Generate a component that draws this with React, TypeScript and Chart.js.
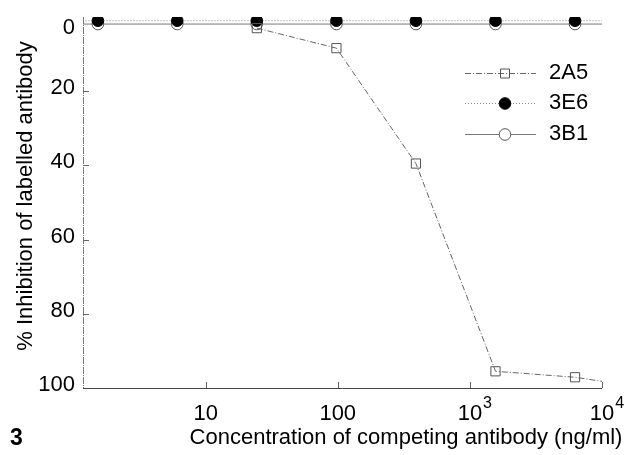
import React, { useEffect, useRef } from "react";
import { Chart, registerables } from "chart.js";

Chart.register(...registerables);

// ---- data ----
const concentrations = [0.39, 1.53, 6.1, 24.4, 97.7, 390.6, 1562.5, 6250, 25000];
const series2A5: (number | null)[] = [null, null, null, 3, 8.4, 39.5, 95.5, 97.1, 100.4];
const series3E6 = [1, 1, 1, 1, 1, 1, 1, 1, 1];
const series3B1 = [1.9, 1.9, 1.9, 1.9, 1.9, 1.9, 1.9, 1.9, 1.9];
const seriesNames = ["2A5", "3E6", "3B1"];
const xTickValues = [10, 100, 1000, 10000];
const xTickLabels = ["10", "100", "10^3", "10^4"];
const yTickValues = [0, 20, 40, 60, 80, 100];
const xTitle = "Concentration of competing antibody (ng/ml)";
const yTitle = "% Inhibition of labelled antibody";
const panelLabel = "3";

const X_MIN = 1.18;
const X_MAX = 10000;
const FONT = '"Liberation Sans", Arial, sans-serif';

const toPoints = (ys: (number | null)[]) =>
  concentrations.map((x, i) => ({ x, y: ys[i] }));

const inRange = (r: number) => (ctx: any) => {
  const x = ctx.raw && ctx.raw.x;
  return x == null || x < X_MIN || x > X_MAX ? 0 : r;
};

const decoPlugin = {
  id: "deco",
  afterDraw(chart: any) {
    const { ctx, chartArea: a, scales } = chart;
    const xs = scales.x;
    const ys = scales.y;
    ctx.save();
    // axis lines
    ctx.lineWidth = 1;
    ctx.strokeStyle = "#777";
    ctx.setLineDash([7, 1, 1, 1]);
    ctx.beginPath();
    ctx.moveTo(a.left + 0.5, a.top);
    ctx.lineTo(a.left + 0.5, a.bottom);
    ctx.stroke();
    ctx.setLineDash([]);
    ctx.strokeStyle = "#444";
    ctx.beginPath();
    ctx.moveTo(a.left, a.bottom + 0.5);
    ctx.lineTo(a.right, a.bottom + 0.5);
    ctx.stroke();
    // inward ticks
    ctx.strokeStyle = "#666";
    yTickValues.forEach((v) => {
      if (v === 0 || v === 100) return;
      const py = Math.round(ys.getPixelForValue(v)) + 0.5;
      ctx.beginPath();
      ctx.moveTo(a.left, py);
      ctx.lineTo(a.left + 6, py);
      ctx.stroke();
    });
    xTickValues.forEach((v) => {
      const px = Math.round(xs.getPixelForValue(v)) + 0.5;
      ctx.beginPath();
      ctx.moveTo(px, a.bottom);
      ctx.lineTo(px, a.bottom - 6);
      ctx.stroke();
    });
    // tick labels
    ctx.fillStyle = "#000";
    ctx.font = `22px ${FONT}`;
    ctx.textBaseline = "middle";
    ctx.textAlign = "right";
    yTickValues.forEach((v) => {
      const py = Math.max(ys.getPixelForValue(v) - 3, a.top + 11);
      ctx.fillText(String(v), a.left - 8, py);
    });
    xTickValues.forEach((v, i) => {
      const px = xs.getPixelForValue(v);
      const [base, exp] = xTickLabels[i].split("^");
      ctx.font = `22px ${FONT}`;
      ctx.textAlign = "center";
      ctx.fillText(base, px, a.bottom + 26);
      if (exp) {
        const w = ctx.measureText(base).width;
        ctx.font = `16px ${FONT}`;
        ctx.textAlign = "left";
        ctx.fillText(exp, px + w / 2 + 1, a.bottom + 16);
      }
    });
    // titles
    ctx.font = `22px ${FONT}`;
    ctx.textAlign = "center";
    ctx.fillText(xTitle, 406, 438);
    ctx.save();
    ctx.translate(26, 196);
    ctx.rotate(-Math.PI / 2);
    ctx.fillText(yTitle, 0, 0);
    ctx.restore();
    ctx.font = `bold 23px ${FONT}`;
    ctx.textAlign = "left";
    ctx.fillText(panelLabel, 10, 439);
    // legend
    const rows = [73, 103, 134];
    chart.data.datasets.forEach((ds: any, i: number) => {
      const yy = rows[i] + 0.5;
      ctx.strokeStyle = ds.borderColor;
      ctx.lineWidth = 1;
      ctx.setLineDash(ds.borderDash || []);
      ctx.beginPath();
      ctx.moveTo(465, yy);
      ctx.lineTo(536, yy);
      ctx.stroke();
      ctx.setLineDash([]);
      ctx.strokeStyle = ds.pointBorderColor;
      ctx.fillStyle = ds.pointBackgroundColor;
      const r = ds.legendRadius;
      ctx.beginPath();
      if (ds.pointStyle === "rect") {
        ctx.rect(505 - 4.5, yy - 4.5, 9, 9);
      } else {
        ctx.arc(505, yy, r, 0, Math.PI * 2);
      }
      ctx.fill();
      ctx.stroke();
      ctx.fillStyle = "#000";
      ctx.font = `22px ${FONT}`;
      ctx.textAlign = "left";
      ctx.textBaseline = "middle";
      ctx.fillText(ds.label, 549, rows[i]);
    });
    ctx.restore();
  },
};

export default function App() {
  const ref = useRef<HTMLCanvasElement | null>(null);
  useEffect(() => {
    document.body.style.margin = "0";
    const canvas = ref.current;
    if (!canvas) return;
    const chart = new Chart(canvas, {
      type: "line",
      data: {
        datasets: [
          {
            label: seriesNames[0],
            data: toPoints(series2A5),
            borderColor: "#666",
            borderWidth: 1,
            borderDash: [6, 2, 1, 2],
            pointStyle: "rect",
            pointRadius: inRange(6.5),
            pointBorderColor: "#555",
            pointBackgroundColor: "rgba(255,255,255,0)",
            pointBorderWidth: 1,
            legendRadius: 4.5,
          } as any,
          {
            label: seriesNames[1],
            data: toPoints(series3E6),
            borderColor: "#888",
            borderWidth: 1,
            borderDash: [1, 2],
            pointStyle: "circle",
            pointRadius: inRange(5.8),
            pointBorderColor: "#000",
            pointBackgroundColor: "#000",
            pointBorderWidth: 1,
            legendRadius: 5.8,
          } as any,
          {
            label: seriesNames[2],
            data: toPoints(series3B1),
            borderColor: "#777",
            borderWidth: 1,
            borderDash: [],
            pointStyle: "circle",
            pointRadius: inRange(5.8),
            pointBorderColor: "#555",
            pointBackgroundColor: "#fff",
            pointBorderWidth: 1,
            legendRadius: 5.8,
          } as any,
        ],
      },
      options: {
        animation: false,
        responsive: false,
        layout: { padding: { left: 0, top: 17, right: 35, bottom: 0 } },
        plugins: { legend: { display: false }, tooltip: { enabled: false } },
        scales: {
          x: {
            type: "logarithmic",
            min: X_MIN,
            max: X_MAX,
            grid: { display: false },
            border: { display: false },
            ticks: { display: false },
            afterFit: (s: any) => {
              s.height = 67;
            },
          },
          y: {
            type: "linear",
            reverse: true,
            min: 0,
            max: 100,
            grid: { display: false },
            border: { display: false },
            ticks: { display: false },
            afterFit: (s: any) => {
              s.width = 83;
            },
          },
        },
      },
      plugins: [decoPlugin],
    } as any);
    return () => chart.destroy();
  }, []);
  return (
    <div style={{ width: 637, height: 455, background: "#fff" }}>
      <canvas ref={ref} width={637} height={455} style={{ display: "block" }} />
    </div>
  );
}
